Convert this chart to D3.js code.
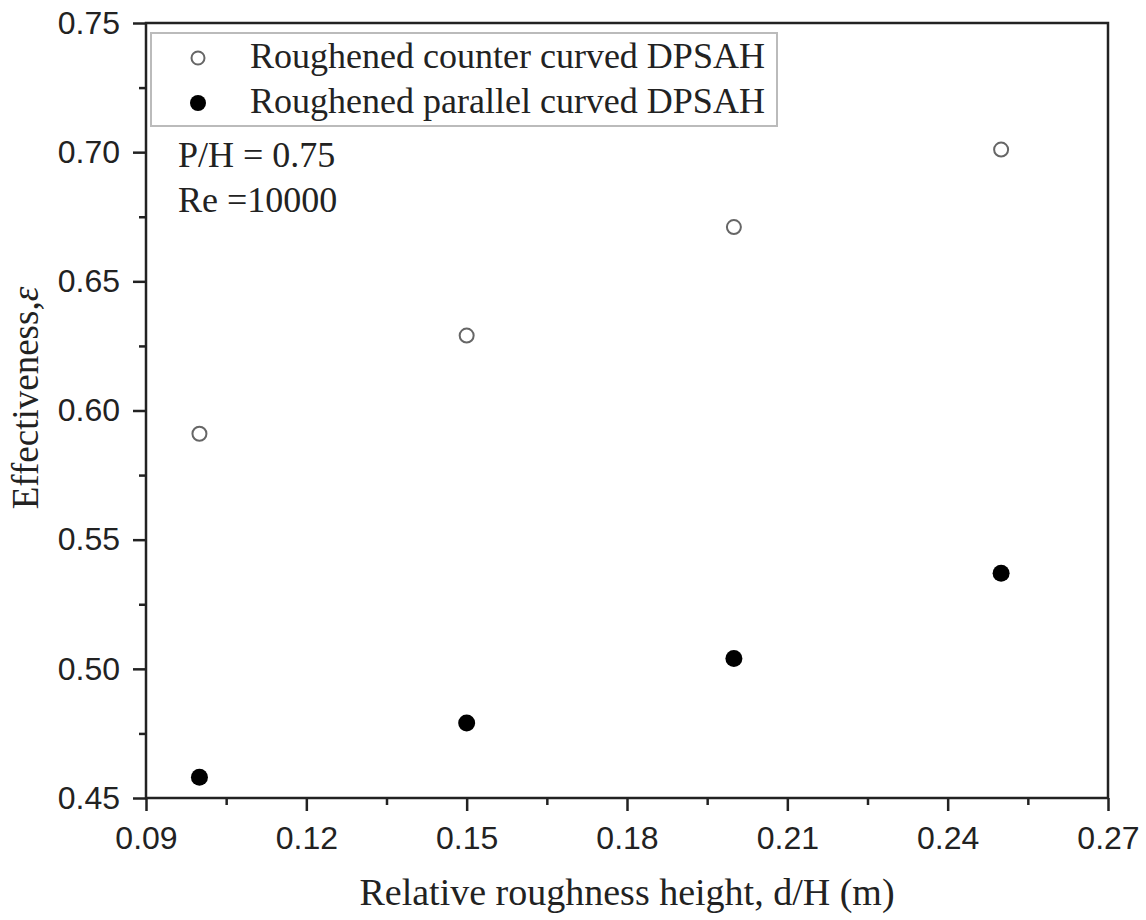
<!DOCTYPE html>
<html>
<head>
<meta charset="utf-8">
<script src="https://cdn.jsdelivr.net/npm/d3@7"></script>
<style>
  body { margin: 0; background: #fff; }
</style>
</head>
<body>
<script>
// chart data
const xValues = [0.10, 0.15, 0.20, 0.25];
const counterCurved = [0.591, 0.629, 0.671, 0.701];
const parallelCurved = [0.458, 0.479, 0.504, 0.537];
const xTicks = [0.09, 0.12, 0.15, 0.18, 0.21, 0.24, 0.27];
const yTicks = [0.45, 0.50, 0.55, 0.60, 0.65, 0.70, 0.75];
const seriesNames = ["Roughened counter curved DPSAH", "Roughened parallel curved DPSAH"];
const notes = ["P/H = 0.75", "Re =10000"];

const w = 1146;
const h = 920;
const margin = {top: 23, right: 38, bottom: 122, left: 146};
const innerWidth = w - margin.left - margin.right;
const innerHeight = h - margin.top - margin.bottom;

const serif = "'Liberation Serif', 'Times New Roman', serif";

const xScale = d3.scaleLinear()
    .domain([0.09, 0.27])
    .range([0, innerWidth]);

const yScale = d3.scaleLinear()
    .domain([0.45, 0.75])
    .range([innerHeight, 0]);

const svg = d3.select("body")
  .append("svg")
    .attr("width", w)
    .attr("height", h);

const g = svg.append("g")
    .attr("transform", `translate(${margin.left}, ${margin.top})`);

// minor ticks (halfway between majors)
const xMinor = d3.range(0.105, 0.27, 0.03);
const yMinor = d3.range(0.475, 0.75, 0.05);

g.append("g")
    .attr("transform", `translate(0, ${innerHeight})`)
    .call(d3.axisBottom(xScale).tickValues(xMinor).tickSize(7).tickFormat(""))
    .call(a => a.select(".domain").remove())
    .selectAll("line").attr("stroke", "#222").attr("stroke-width", 2.5);

g.append("g")
    .call(d3.axisLeft(yScale).tickValues(yMinor).tickSize(7).tickFormat(""))
    .call(a => a.select(".domain").remove())
    .selectAll("line").attr("stroke", "#222").attr("stroke-width", 2.5);

// major axes
const xAxis = g.append("g")
    .attr("transform", `translate(0, ${innerHeight})`)
    .call(d3.axisBottom(xScale).tickValues(xTicks).tickSize(13).tickPadding(15)
      .tickFormat(d3.format(".2f")));

const yAxis = g.append("g")
    .call(d3.axisLeft(yScale).tickValues(yTicks).tickSize(13).tickPadding(13)
      .tickFormat(d3.format(".2f")));

[xAxis, yAxis].forEach(a => {
  a.select(".domain").remove();
  a.selectAll("line").attr("stroke", "#222").attr("stroke-width", 2.5);
  a.selectAll("text")
    .attr("fill", "#222")
    .style("font-family", "'Liberation Sans', Arial, sans-serif")
    .style("font-size", "32px");
});

// frame
g.append("rect")
    .attr("x", 0)
    .attr("y", 0)
    .attr("width", innerWidth)
    .attr("height", innerHeight)
    .attr("fill", "none")
    .attr("stroke", "#222")
    .attr("stroke-width", 2.5);

// points
g.selectAll(".counter")
  .data(xValues)
  .enter().append("circle")
    .attr("cx", d => xScale(d))
    .attr("cy", (d, i) => yScale(counterCurved[i]))
    .attr("r", 7)
    .attr("fill", "#fff")
    .attr("stroke", "#666")
    .attr("stroke-width", 2);

g.selectAll(".parallel")
  .data(xValues)
  .enter().append("circle")
    .attr("cx", d => xScale(d))
    .attr("cy", (d, i) => yScale(parallelCurved[i]))
    .attr("r", 8.5)
    .attr("fill", "#000");

// legend
const legend = svg.append("g");
legend.append("rect")
    .attr("x", 151)
    .attr("y", 33)
    .attr("width", 626)
    .attr("height", 93)
    .attr("fill", "#fff")
    .attr("stroke", "#bbb")
    .attr("stroke-width", 2);

seriesNames.forEach((name, i) => {
  const cy = 58 + i * 45;
  if (i === 0) {
    legend.append("circle").attr("cx", 198).attr("cy", cy).attr("r", 6.5)
      .attr("fill", "#fff").attr("stroke", "#666").attr("stroke-width", 2);
  } else {
    legend.append("circle").attr("cx", 198).attr("cy", cy).attr("r", 8)
      .attr("fill", "#000");
  }
  legend.append("text")
    .attr("x", 250)
    .attr("y", cy + 10)
    .attr("fill", "#222")
    .style("font-family", serif)
    .style("font-size", "36px")
    .text(name);
});

// notes
notes.forEach((t, i) => {
  svg.append("text")
    .attr("x", 178)
    .attr("y", 167 + i * 45)
    .attr("fill", "#222")
    .style("font-family", serif)
    .style("font-size", "36px")
    .text(t);
});

// axis titles
svg.append("text")
    .attr("x", margin.left + innerWidth / 2)
    .attr("y", 905)
    .attr("text-anchor", "middle")
    .attr("fill", "#222")
    .style("font-family", serif)
    .style("font-size", "38px")
    .text("Relative roughness height, d/H (m)");

const yTitle = svg.append("text")
    .attr("transform", "translate(38, 398) rotate(-90)")
    .attr("text-anchor", "middle")
    .attr("fill", "#222")
    .style("font-family", serif)
    .style("font-size", "37px");
yTitle.append("tspan").text("Effectiveness,");
yTitle.append("tspan").style("font-style", "italic").text("ε");
</script>
</body>
</html>
